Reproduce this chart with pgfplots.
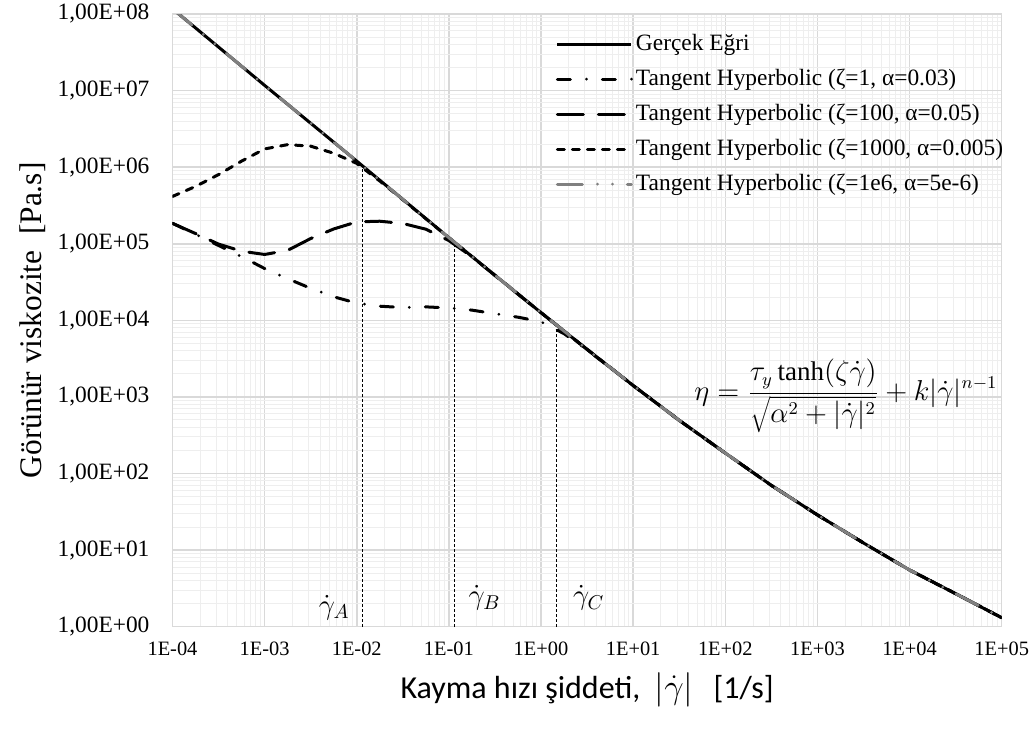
\documentclass[border=0pt]{standalone}
\usepackage{fontspec}
\setmainfont{Liberation Serif}
\newfontfamily\calibrifont{Carlito}
\usepackage{pgfplots}
\usepackage{pgfplotstable}
\pgfplotsset{compat=1.18}

\definecolor{majgrid}{RGB}{217,217,217}
\definecolor{mingrid}{RGB}{238,238,238}
\definecolor{hbgray}{RGB}{128,128,128}

% Herschel-Bulkley reference curve
\pgfplotstableread{
x y
1e-4 1.17e8
1e-3 1.17e7
1e-2 1.2e6
3.162e-2 3.8e5
1e-1 1.2e5
3.162e-1 3.88e4
1 1.26e4
1.778 7.25e3
3.162 4.18e3
5.623 2.43e3
10 1.41e3
31.62 495
100 185
316.2 70
1000 28.8
3162 12.4
1e4 5.5
31623 2.7
1e5 1.31
}\realcurve

% zeta = 1, alpha = 0.03
\pgfplotstableread{
x y
1e-4 1.85e5
1.778e-4 1.33e5
3.162e-4 9.5e4
5.623e-4 6.8e4
1e-3 4.75e4
1.778e-3 3.5e4
3.162e-3 2.62e4
5.623e-3 2.03e4
1e-2 1.68e4
1.778e-2 1.53e4
3.162e-2 1.47e4
5.623e-2 1.5e4
1e-1 1.45e4
1.778e-1 1.36e4
3.162e-1 1.22e4
5.623e-1 1.1e4
1 9.6e3
1.778 6.7e3
3.162 4.1e3
5.623 2.42e3
10 1.41e3
31.62 495
100 185
316.2 70
1000 28.8
3162 12.4
1e4 5.5
31623 2.7
1e5 1.31
}\thA

% zeta = 100, alpha = 0.05
\pgfplotstableread{
x y
1e-4 1.85e5
1.778e-4 1.36e5
3.162e-4 9.9e4
5.623e-4 8.0e4
1e-3 7.25e4
1.778e-3 8.2e4
3.162e-3 1.17e5
5.623e-3 1.56e5
1e-2 1.93e5
1.778e-2 1.97e5
3.162e-2 1.84e5
5.623e-2 1.55e5
1e-1 1.1e5
1.778e-1 6.8e4
3.162e-1 3.85e4
5.623e-1 2.2e4
1 1.26e4
1.778 7.25e3
3.162 4.18e3
5.623 2.43e3
10 1.41e3
31.62 495
100 185
316.2 70
1000 28.8
3162 12.4
1e4 5.5
31623 2.7
1e5 1.31
}\thB

% zeta = 1000, alpha = 0.005
\pgfplotstableread{
x y
1e-4 4.15e5
1.778e-4 5.6e5
3.162e-4 8.0e5
5.623e-4 1.2e6
1e-3 1.73e6
1.778e-3 1.97e6
3.162e-3 1.88e6
5.623e-3 1.52e6
1e-2 1.12e6
1.778e-2 6.6e5
3.162e-2 3.76e5
1e-1 1.2e5
3.162e-1 3.88e4
1 1.26e4
1.778 7.25e3
3.162 4.18e3
5.623 2.43e3
10 1.41e3
31.62 495
100 185
316.2 70
1000 28.8
3162 12.4
1e4 5.5
31623 2.7
1e5 1.31
}\thC

\begin{document}
\begin{tikzpicture}
\begin{axis}[
  name=ax,
  scale only axis,
  width=414.6pt, height=306.35pt,
  xmode=log, ymode=log,
  xmin=1e-4, xmax=1e5, ymin=1, ymax=1e8,
  xtick={1e-4,1e-3,1e-2,1e-1,1,10,100,1000,1e4,1e5},
  xticklabels={1E-04,1E-03,1E-02,1E-01,1E+00,1E+01,1E+02,1E+03,1E+04,1E+05},
  ytick={1,10,100,1000,1e4,1e5,1e6,1e7,1e8},
  yticklabels={{1,00E+00},{1,00E+01},{1,00E+02},{1,00E+03},{1,00E+04},{1,00E+05},{1,00E+06},{1,00E+07},{1,00E+08}},
  minor xtick={2e-4,3e-4,4e-4,5e-4,6e-4,7e-4,8e-4,9e-4,
    2e-3,3e-3,4e-3,5e-3,6e-3,7e-3,8e-3,9e-3,
    2e-2,3e-2,4e-2,5e-2,6e-2,7e-2,8e-2,9e-2,
    2e-1,3e-1,4e-1,5e-1,6e-1,7e-1,8e-1,9e-1,
    2,3,4,5,6,7,8,9,
    20,30,40,50,60,70,80,90,
    200,300,400,500,600,700,800,900,
    2000,3000,4000,5000,6000,7000,8000,9000,
    2e4,3e4,4e4,5e4,6e4,7e4,8e4,9e4},
  minor ytick={2,3,4,5,6,7,8,9,
    20,30,40,50,60,70,80,90,
    200,300,400,500,600,700,800,900,
    2000,3000,4000,5000,6000,7000,8000,9000,
    2e4,3e4,4e4,5e4,6e4,7e4,8e4,9e4,
    2e5,3e5,4e5,5e5,6e5,7e5,8e5,9e5,
    2e6,3e6,4e6,5e6,6e6,7e6,8e6,9e6,
    2e7,3e7,4e7,5e7,6e7,7e7,8e7,9e7},
  grid=both,
  major grid style={draw=majgrid, line width=0.75pt},
  minor grid style={draw=mingrid, line width=0.5pt},
  major tick length=0pt, minor tick length=0pt,
  axis line style={draw=majgrid, line width=0.75pt},
  xticklabel style={font=\fontsize{10.2}{12}\selectfont, yshift=-4pt},
  yticklabel style={font=\fontsize{11.7}{14}\selectfont, xshift=-8pt},
  xlabel={\calibrifont\fontsize{16}{19}\selectfont Kayma hızı şiddeti,\ \ $|\dot{\gamma}|$\hspace{10pt}[1/s]},
  ylabel={\fontsize{15.7}{18}\selectfont Görünür viskozite\ \ [Pa.s]},
  xlabel style={at={(axis description cs:0.5,-0.103)}, anchor=center},
  ylabel style={at={(axis description cs:-0.168,0.5)}, anchor=center},
  legend cell align=left,
  legend style={at={(0.462,0.972)}, anchor=north west, draw=none, fill=none,
    font=\fontsize{11.7}{14}\selectfont, row sep=4.8pt, inner sep=0pt,
    nodes={inner sep=1.5pt}},
  legend image code/.code={\draw[#1] (0pt,0pt) -- (37pt,0pt);},
  clip=true,
]
% marker lines for the three characteristic shear rates
\addplot[forget plot, black, line width=0.5pt, dash pattern=on 1.5pt off 1pt] coordinates {(0.0114,1) (0.0114,1.0e6)};
\addplot[forget plot, black, line width=0.5pt, dash pattern=on 1.5pt off 1pt] coordinates {(0.115,1) (0.115,1.0e5)};
\addplot[forget plot, black, line width=0.5pt, dash pattern=on 1.5pt off 1pt] coordinates {(1.47,1) (1.47,8.0e3)};

\addplot[black, line width=1.5pt] table {\realcurve};
\addlegendentry{Gerçek Eğri}
\addplot[black, line width=1.5pt, line cap=round, dash pattern=on 6.5pt off 8pt on 0pt off 8pt] table {\thA};
\addlegendentry{Tangent Hyperbolic (ζ=1, α=0.03)}
\addplot[black, line width=1.5pt, line cap=round, dash pattern=on 13pt off 7.5pt] table {\thB};
\addlegendentry{Tangent Hyperbolic (ζ=100, α=0.05)}
\addplot[black, line width=1.5pt, line cap=round, dash pattern=on 3.5pt off 4pt] table {\thC};
\addlegendentry{Tangent Hyperbolic (ζ=1000, α=0.005)}
\addplot[hbgray, line width=1.5pt, line cap=round, dash pattern=on 12.5pt off 7.5pt on 0pt off 7.5pt on 0pt off 7.5pt] table {\realcurve};
\addlegendentry{Tangent Hyperbolic (ζ=1e6, α=5e-6)}

\node[font=\fontsize{13.5}{16}\selectfont] at (axis cs:2040,1030)
  {$\displaystyle \eta=\frac{\tau_y\tanh(\zeta\dot{\gamma})}{\sqrt{\alpha^2+|\dot{\gamma}|^2}}+k|\dot{\gamma}|^{n-1}$};
\node[font=\fontsize{14}{16}\selectfont] at (axis cs:5.7e-3,1.76) {$\dot{\gamma}_A$};
\node[font=\fontsize{14}{16}\selectfont] at (axis cs:0.244,2.37) {$\dot{\gamma}_B$};
\node[font=\fontsize{14}{16}\selectfont] at (axis cs:3.3,2.37) {$\dot{\gamma}_C$};
\end{axis}
\pgfresetboundingbox
\path (ax.south west) ++(-86.25pt,-51.15pt) rectangle ++(517.5pt,364.5pt);
\end{tikzpicture}
\end{document}
